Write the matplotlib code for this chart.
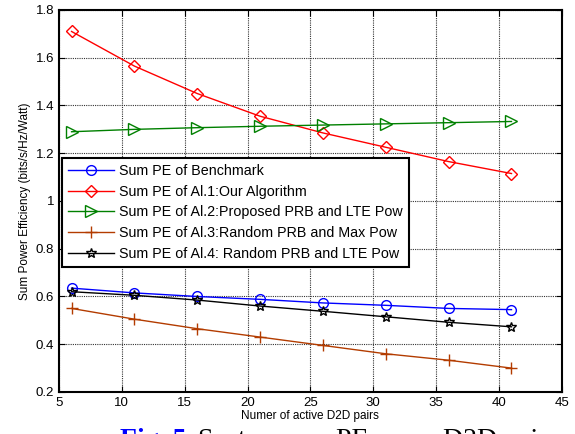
import matplotlib
matplotlib.use('Agg')
import matplotlib.pyplot as plt

# D2D pairs
pairs = [6, 11, 16, 21, 26, 31, 36, 41]

# Sum PE values
pe_benchmark = [0.635, 0.615, 0.600, 0.588, 0.573, 0.563, 0.550, 0.545]
pe_al1 = [1.71, 1.565, 1.45, 1.355, 1.285, 1.225, 1.165, 1.115]
pe_al2 = [1.29, 1.30, 1.307, 1.313, 1.318, 1.323, 1.328, 1.333]
pe_al3 = [0.55, 0.505, 0.465, 0.43, 0.395, 0.36, 0.333, 0.30]
pe_al4 = [0.62, 0.605, 0.585, 0.56, 0.538, 0.515, 0.492, 0.473]

plt.rcParams['font.family'] = ['Liberation Sans', 'DejaVu Sans']

fig = plt.figure(figsize=(5.75, 4.34), dpi=100)
ax = fig.add_axes([0.1026, 0.0968, 0.8744, 0.8802])

ax.plot(pairs, pe_benchmark, color='blue', marker='o', ms=7, mfc='none', lw=1,
        label='Sum PE of Benchmark')
ax.plot(pairs, pe_al1, color='red', marker='D', ms=6, mfc='none', lw=1,
        label='Sum PE of Al.1:Our Algorithm')
ax.plot(pairs, pe_al2, color='#008000', marker='>', ms=8, mfc='none', lw=1,
        label='Sum PE of Al.2:Proposed PRB and LTE Pow')
ax.plot(pairs, pe_al3, color='#b33c00', marker='+', ms=9, lw=1,
        label='Sum PE of Al.3:Random PRB and Max Pow')
ax.plot(pairs, pe_al4, color='black', marker='*', ms=7, mfc='none', lw=1,
        label='Sum PE of Al.4: Random PRB and LTE Pow')

ax.set_xlim(5, 45)
ax.set_ylim(0.2, 1.8)
ax.set_xticks(range(5, 46, 5))
ax.set_yticks([0.2, 0.4, 0.6, 0.8, 1.0, 1.2, 1.4, 1.6, 1.8])
ax.set_yticklabels(['0.2', '0.4', '0.6', '0.8', '1', '1.2', '1.4', '1.6', '1.8'])
ax.tick_params(direction='in', top=True, right=True, labelsize=9.5, length=4)
ax.grid(True, color='0.2', linestyle=(0, (1, 1)), linewidth=0.8)
for s in ax.spines.values():
    s.set_linewidth(1.5)

ax.set_xlabel('Numer of active D2D pairs', fontsize=8.5, labelpad=1)
ax.set_ylabel('Sum Power Efficiency (bits/s/Hz/Watt)', fontsize=8.5, labelpad=3)

leg = ax.legend(loc='upper left', bbox_to_anchor=(0.006, 0.613), fontsize=10.3,
                fancybox=False, edgecolor='black', framealpha=1,
                handlelength=3.2, labelspacing=0.46, borderpad=0.45,
                handletextpad=0.3, borderaxespad=0)
leg.get_frame().set_linewidth(1.5)

# caption, cut off at the bottom of the image
cap_y = -0.031
fig.text(120 / 575, cap_y, 'Fig. 5.', color='blue', fontsize=20, fontweight='bold',
         family='Liberation Serif')
fig.text(198 / 575, cap_y, 'System sum', color='black', fontsize=20,
         family='Liberation Serif')
fig.text(336 / 575, cap_y, 'PE versus', color='black', fontsize=20,
         family='Liberation Serif')
fig.text(443 / 575, cap_y, 'D2D pairs', color='black', fontsize=20,
         family='Liberation Serif')

fig.savefig('out.png', dpi=100)
